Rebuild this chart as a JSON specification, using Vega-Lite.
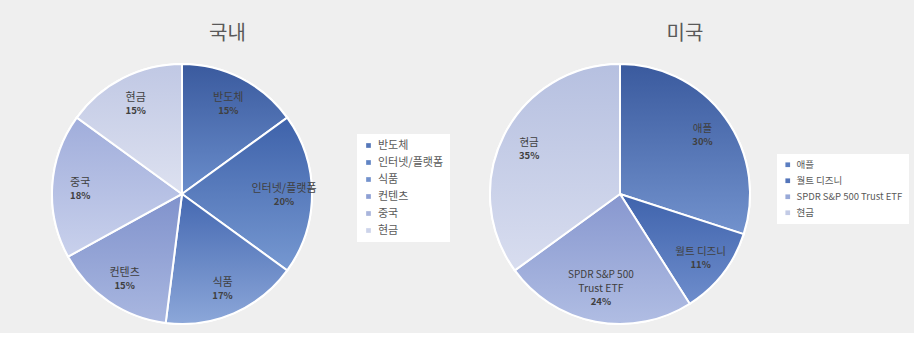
{
  "$schema": "https://vega.github.io/schema/vega-lite/v6.json",
  "background": "#efefef",
  "padding": {"left": 5, "top": 24, "right": 5, "bottom": 5},
  "spacing": 11,
  "datasets": {
    "kr": [
      {"idx": 1, "name": "반도체", "label0": "", "label": "반도체", "share": 0.15},
      {"idx": 2, "name": "인터넷/플랫폼", "label0": "", "label": "인터넷/플랫폼", "share": 0.20},
      {"idx": 3, "name": "식품", "label0": "", "label": "식품", "share": 0.17},
      {"idx": 4, "name": "컨텐츠", "label0": "", "label": "컨텐츠", "share": 0.15},
      {"idx": 5, "name": "중국", "label0": "", "label": "중국", "share": 0.18},
      {"idx": 6, "name": "현금", "label0": "", "label": "현금", "share": 0.15}
    ],
    "us": [
      {"idx": 1, "name": "애플", "label0": "", "label": "애플", "share": 0.30},
      {"idx": 2, "name": "월트 디즈니", "label0": "", "label": "월트 디즈니", "share": 0.11},
      {"idx": 3, "name": "SPDR S&P 500 Trust ETF", "label0": "SPDR S&P 500", "label": "Trust ETF", "share": 0.24},
      {"idx": 4, "name": "현금", "label0": "", "label": "현금", "share": 0.35}
    ]
  },
  "resolve": {"scale": {"color": "independent"}, "legend": {"color": "independent"}},
  "config": {
    "font": "Noto Sans CJK KR",
    "view": {"stroke": null},
    "title": {"fontSize": 20, "fontWeight": "normal", "color": "#595959", "anchor": "middle", "frame": "bounds", "offset": 16},
    "legend": {
      "orient": "none",
      "title": null,
      "symbolType": "square",
      "symbolSize": 22,
      "symbolStrokeWidth": 0,
      "labelFontSize": 11,
      "labelColor": "#595959",
      "rowPadding": 5,
      "fillColor": "white",
      "padding": 6,
      "labelLimit": 200
    }
  },
  "hconcat": [
    {
      "title": "국내",
      "width": 354,
      "height": 260,
      "data": {"name": "kr"},
      "encoding": {
        "theta": {"field": "share", "type": "quantitative", "stack": true},
        "order": {"field": "idx", "type": "ordinal"}
      },
      "layer": [
        {
          "mark": {"type": "arc", "stroke": "white", "strokeWidth": 2},
          "encoding": {
            "color": {
              "field": "name",
              "type": "nominal",
              "scale": {
                "domain": ["반도체", "인터넷/플랫폼", "식품", "컨텐츠", "중국", "현금"],
                "range": ["#5577b9", "#6084c4", "#7392cd", "#8d9fd4", "#a9b5dc", "#ccd3ea"]
              },
              "legend": {"legendX": 352, "legendY": 70}
            }
          }
        },
        {
          "mark": {"type": "arc", "stroke": "white", "strokeWidth": 2},
          "encoding": {
            "fill": {
              "condition": [
                {"test": "datum.idx === 1", "value": {"gradient": "linear", "x1": 0, "y1": 0, "x2": 0, "y2": 1, "stops": [{"offset": 0, "color": "#3a5a9e"}, {"offset": 1, "color": "#6a8dcb"}]}},
                {"test": "datum.idx === 2", "value": {"gradient": "linear", "x1": 0, "y1": 0, "x2": 0, "y2": 1, "stops": [{"offset": 0, "color": "#3e62aa"}, {"offset": 1, "color": "#7698d1"}]}},
                {"test": "datum.idx === 3", "value": {"gradient": "linear", "x1": 0, "y1": 0, "x2": 0, "y2": 1, "stops": [{"offset": 0, "color": "#4468b1"}, {"offset": 1, "color": "#8ca7d9"}]}},
                {"test": "datum.idx === 4", "value": {"gradient": "linear", "x1": 0, "y1": 0, "x2": 0, "y2": 1, "stops": [{"offset": 0, "color": "#8092cc"}, {"offset": 1, "color": "#a9b7e0"}]}},
                {"test": "datum.idx === 5", "value": {"gradient": "linear", "x1": 0, "y1": 0, "x2": 0, "y2": 1, "stops": [{"offset": 0, "color": "#a0addb"}, {"offset": 1, "color": "#c9d1ec"}]}},
                {"test": "datum.idx === 6", "value": {"gradient": "linear", "x1": 0, "y1": 0, "x2": 0, "y2": 1, "stops": [{"offset": 0, "color": "#c0c8e4"}, {"offset": 1, "color": "#dde1f0"}]}}
              ],
              "value": "#8d9fd4"
            }
          }
        },
        {
          "mark": {"type": "text", "radius": 102, "baseline": "bottom", "fontSize": 11, "color": "#404040"},
          "encoding": {"text": {"field": "label"}}
        },
        {
          "mark": {"type": "text", "radius": 102, "baseline": "top", "dy": 3, "fontSize": 9.5, "fontWeight": "bold", "color": "#404040"},
          "encoding": {"text": {"field": "share", "type": "quantitative", "format": ".0%"}}
        }
      ]
    },
    {
      "title": "미국",
      "width": 318,
      "height": 260,
      "data": {"name": "us"},
      "encoding": {
        "theta": {"field": "share", "type": "quantitative", "stack": true},
        "order": {"field": "idx", "type": "ordinal"}
      },
      "layer": [
        {
          "mark": {"type": "arc", "stroke": "white", "strokeWidth": 2},
          "encoding": {
            "color": {
              "field": "name",
              "type": "nominal",
              "scale": {
                "domain": ["애플", "월트 디즈니", "SPDR S&P 500 Trust ETF", "현금"],
                "range": ["#5b7ec1", "#5475ba", "#98a9d8", "#c3cbe6"]
              },
              "legend": {"legendX": 316, "legendY": 90, "labelFontSize": 9.5}
            }
          }
        },
        {
          "mark": {"type": "arc", "stroke": "white", "strokeWidth": 2},
          "encoding": {
            "fill": {
              "condition": [
                {"test": "datum.idx === 1", "value": {"gradient": "linear", "x1": 0, "y1": 0, "x2": 0, "y2": 1, "stops": [{"offset": 0, "color": "#3a5a9e"}, {"offset": 1, "color": "#7292cd"}]}},
                {"test": "datum.idx === 2", "value": {"gradient": "linear", "x1": 0, "y1": 0, "x2": 0, "y2": 1, "stops": [{"offset": 0, "color": "#3f63ac"}, {"offset": 1, "color": "#6e8dcc"}]}},
                {"test": "datum.idx === 3", "value": {"gradient": "linear", "x1": 0, "y1": 0, "x2": 0, "y2": 1, "stops": [{"offset": 0, "color": "#8797cf"}, {"offset": 1, "color": "#b0bde3"}]}},
                {"test": "datum.idx === 4", "value": {"gradient": "linear", "x1": 0, "y1": 0, "x2": 0, "y2": 1, "stops": [{"offset": 0, "color": "#b6c0e0"}, {"offset": 1, "color": "#d8ddef"}]}}
              ],
              "value": "#98a9d8"
            }
          }
        },
        {
          "mark": {"type": "text", "radius": 102, "baseline": "bottom", "dy": -14, "fontSize": 10, "color": "#404040"},
          "encoding": {"text": {"field": "label0"}}
        },
        {
          "mark": {"type": "text", "radius": 102, "baseline": "bottom", "fontSize": 10.5, "color": "#404040"},
          "encoding": {"text": {"field": "label"}}
        },
        {
          "mark": {"type": "text", "radius": 102, "baseline": "top", "dy": 3, "fontSize": 9.5, "fontWeight": "bold", "color": "#404040"},
          "encoding": {"text": {"field": "share", "type": "quantitative", "format": ".0%"}}
        }
      ]
    }
  ]
}
